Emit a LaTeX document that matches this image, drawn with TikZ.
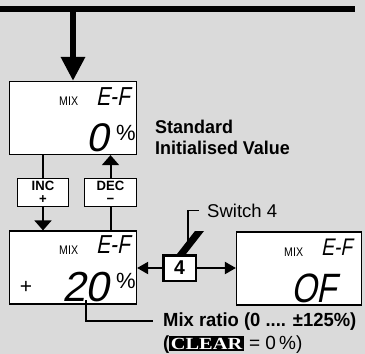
\documentclass[tikz,border=0pt]{standalone}
\usepackage{fontspec}
\setmainfont{Liberation Sans}
\newfontfamily\bcond[FakeStretch=0.97]{Liberation Sans}
\newfontfamily\lcdfont[FakeSlant=0.2,FakeStretch=0.8]{Liberation Sans}
\newfontfamily\lcddig[FakeSlant=0.2]{Liberation Sans}
\newfontfamily\mixfont[FakeStretch=0.85]{Liberation Sans}
\newfontfamily\keyfont[FakeStretch=1.2]{Liberation Serif}
\usetikzlibrary{arrows.meta}
\definecolor{bg}{RGB}{218,218,218}
\begin{document}
\begin{tikzpicture}[x=1pt,y=-1pt,
  lcdbox/.style={draw=black, line width=1.2pt, fill=white, minimum width=127pt, minimum height=73pt, inner sep=0pt},
  keybox/.style={draw=black, line width=1.2pt, fill=white, minimum width=51pt, minimum height=28pt, inner sep=0pt, align=center, font=\bcond\bfseries\fontsize{13.5}{13}\selectfont},
  txt/.style={inner sep=0pt, anchor=base west},
  conn/.style={line width=2pt},
  thin/.style={line width=1.2pt},
  arr/.style={conn, -{Triangle[width=17pt,length=10pt]}},
  harr/.style={conn, -{Triangle[width=12pt,length=11pt]}},
  mixlbl/.style={txt, font=\mixfont\fontsize{12.5}{12.5}\selectfont},
  eflbl/.style={txt, font=\lcdfont\fontsize{26}{26}\selectfont},
  diglbl/.style={txt, font=\lcddig\fontsize{40}{40}\selectfont},
  pctlbl/.style={txt, font=\fontsize{22}{22}\selectfont},
  boldlbl/.style={txt, font=\bcond\bfseries\fontsize{18.5}{18.5}\selectfont}]
\fill[bg] (0,0) rectangle (365,354);
\useasboundingbox (0,0) rectangle (365,354);

% boxes
\node[lcdbox] (box1) at (73,118) {};
\node[lcdbox] (box2) at (73,267.5) {};
\node[lcdbox, minimum width=125pt] (box3) at (299,268.5) {};
\node[keybox] (inc) at (43,192.5) {INC\\+};
\node[keybox, minimum width=52pt] (dec) at (110.5,192.5) {DEC\\−};
\node[draw=black, line width=2.5pt, fill=white, minimum width=32.5pt, minimum height=25.5pt, inner sep=0pt, font=\bcond\bfseries\fontsize{20}{20}\selectfont] (sw4) at (179.5,268) {4};

% box 1 contents
\node[mixlbl] (mix1) at (59,105) {MIX};
\node[eflbl] (ef1) at (96,105) {E-F};
\node[diglbl] (d1) at (86,151) {0};
\node[pctlbl] (p1) at (116,140) {\%};

% box 2 contents
\node[mixlbl] (mix2) at (59,254) {MIX};
\node[eflbl] (ef2) at (96,253) {E-F};
\node[inner sep=0pt, font=\fontsize{21}{21}\selectfont] (plus) at (26,287.5) {+};
\node[txt, font=\lcddig\fontsize{42}{42}\selectfont] (d2) at (62,301) {20};
\node[pctlbl] (p2) at (116,288) {\%};

% box 3 contents
\node[mixlbl] (mix3) at (284,256) {MIX};
\node[txt, font=\lcdfont\fontsize{24}{24}\selectfont] (ef3) at (321,255) {E-F};
\node[txt, font=\lcdfont\fontsize{41}{41}\selectfont] (of) at (291,302) {OF};

% labels
\node[boldlbl] (std1) at (155,133) {Standard};
\node[boldlbl] (std2) at (155,154) {Initialised Value};
\node[txt, font=\fontsize{18.5}{18.5}\selectfont] (swl) at (207,217) {Switch 4};
\node[txt, font=\bcond\bfseries\fontsize{19}{19}\selectfont] (mixr) at (163,326) {Mix ratio (0 .... ±125\%)};
\node[txt, font=\fontsize{19}{19}\selectfont] (clr) at (163,349) {{\bcond\bfseries(}\setlength{\fboxsep}{1.5pt}\colorbox{black}{\textcolor{white}{\keyfont\bfseries\fontsize{17}{17}\selectfont CLEAR}} = 0\,\%)};

% top line and main arrow
\coordinate (tl) at (0,8.5);
\coordinate (tr) at (355,8.5);
\coordinate (drop) at (73,8.5);
\draw[line width=6pt] (tl) -- (tr);
\draw[line width=6.5pt, -{Triangle[width=23pt,length=24pt]}] (drop) -- (box1.north);

% INC / DEC connectors
\draw[conn] (inc.north |- box1.south) -- (inc.north);
\draw[arr] (inc.south) -- (inc.south |- box2.north);
\draw[conn] (dec.south |- box2.north) -- (dec.south);
\draw[arr] (dec.north) -- (dec.north |- box1.south);

% switch arrows
\draw[harr] (sw4.west) -- (sw4.west -| box2.east);
\draw[harr] (sw4.east) -- (sw4.east -| box3.west);

% switch lever
\fill[black] (177,254) -- (186,254) -- (204,231) -- (195,231) -- cycle;
\coordinate (swtop) at (188,241);
\draw[thin] (swtop) |- ([xshift=-8pt]swl.west);

% mix ratio pointer
\coordinate (mixtop) at (86,300);
\draw[thin] (mixtop) |- ([xshift=-10pt]mixr.west);
\end{tikzpicture}
\end{document}
